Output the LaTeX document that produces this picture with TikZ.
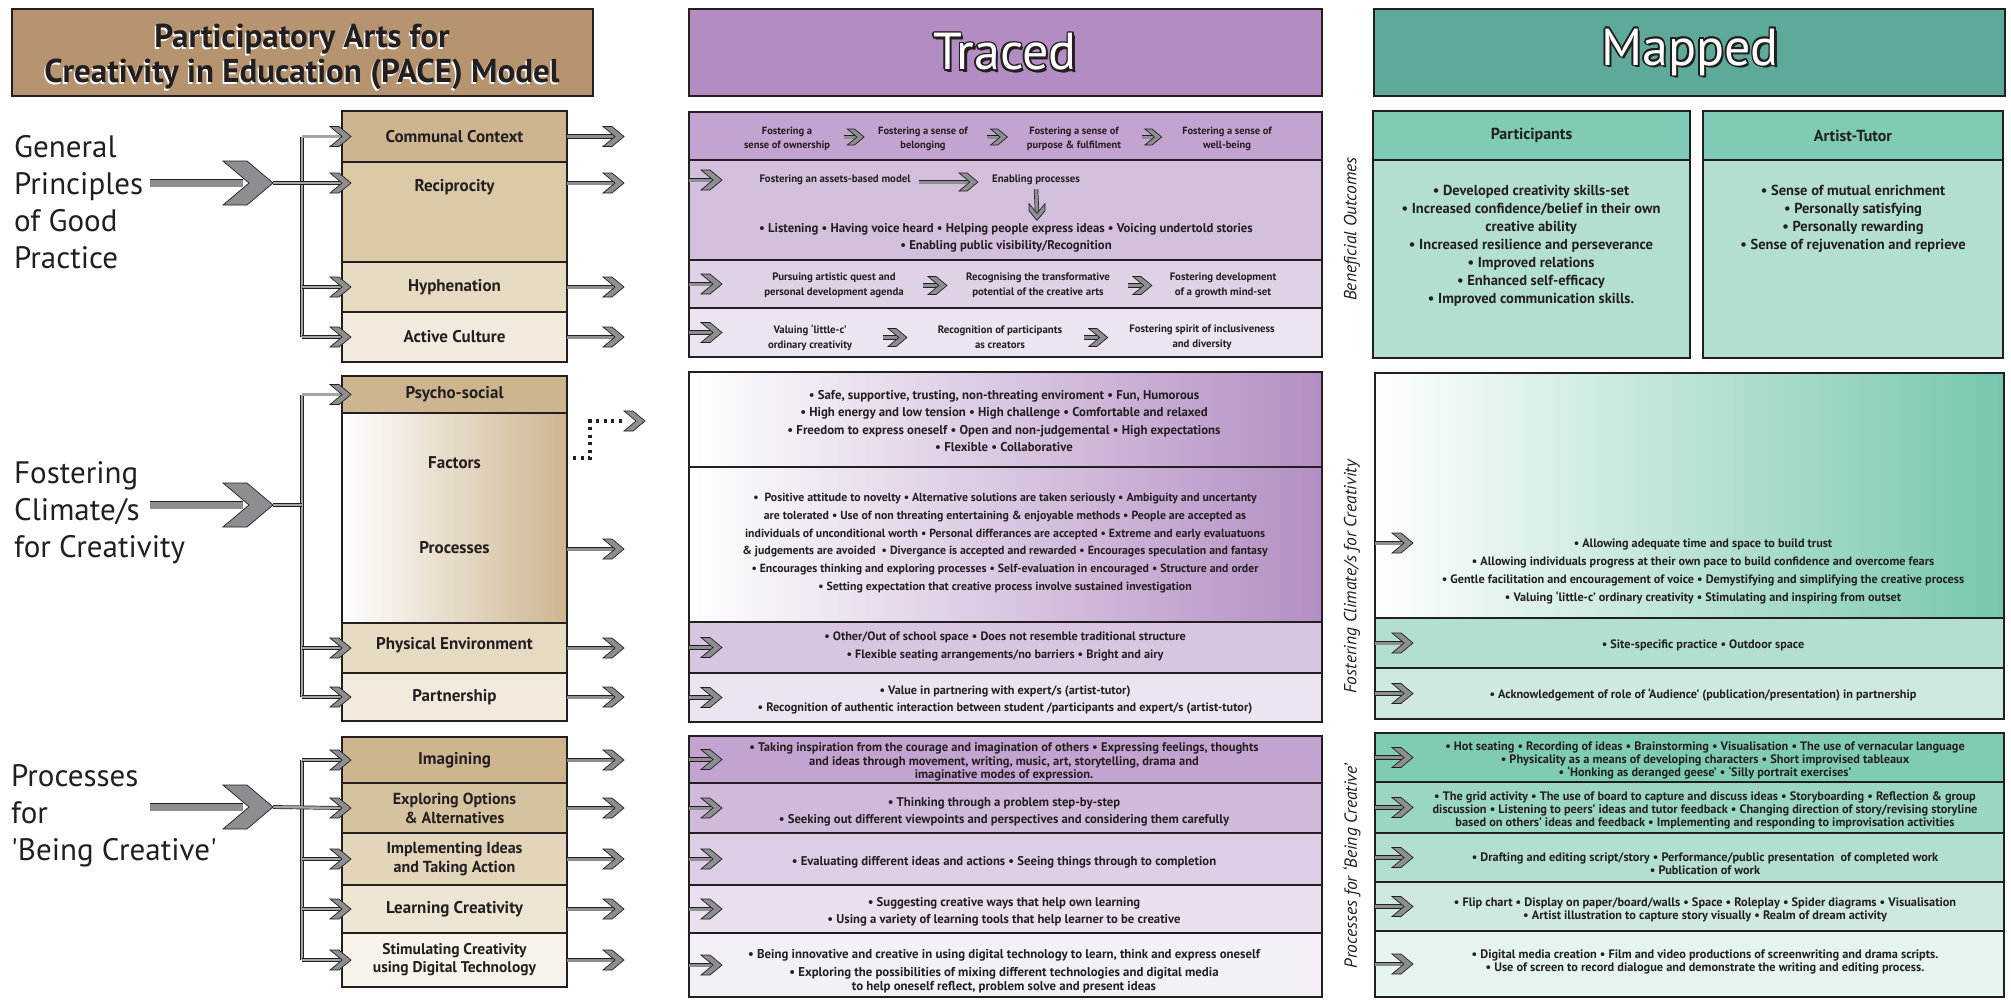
\documentclass[tikz,border=0pt]{standalone}
\usepackage{fontspec}
\setmainfont{PT Sans}
\usetikzlibrary{calc}
\definecolor{dk}{HTML}{231F20}
\definecolor{brownT}{HTML}{B5946F}
\definecolor{tanA}{HTML}{CDB590}
\definecolor{tanAb}{HTML}{D5C29F}
\definecolor{tanB}{HTML}{DBC9A7}
\definecolor{tanC}{HTML}{E6DAC3}
\definecolor{tanCb}{HTML}{E2D5BA}
\definecolor{tanD}{HTML}{F2EBDD}
\definecolor{tanDb}{HTML}{EDE5D4}
\definecolor{tanE}{HTML}{F7F3EB}
\definecolor{purH}{HTML}{B28CC2}
\definecolor{purA}{HTML}{C3A3CF}
\definecolor{purAb}{HTML}{D0BADB}
\definecolor{purB}{HTML}{D3BEDC}
\definecolor{purBb}{HTML}{D8C6E0}
\definecolor{purC}{HTML}{DFD1E6}
\definecolor{purCb}{HTML}{DDCEE5}
\definecolor{purD}{HTML}{ECE4F0}
\definecolor{purDb}{HTML}{E9DFEE}
\definecolor{purE}{HTML}{F5F0F7}
\definecolor{purG}{HTML}{B38EC3}
\definecolor{tealH}{HTML}{5DAA9A}
\definecolor{tealA}{HTML}{80CBB5}
\definecolor{tealB}{HTML}{9BD5C4}
\definecolor{tealC}{HTML}{B3DFD2}
\definecolor{tealD}{HTML}{CDE9E0}
\definecolor{tealE}{HTML}{E6F4EF}
\definecolor{tealG}{HTML}{76C6AE}
\definecolor{agray}{HTML}{8C8E91}

\newcommand\bx[6]{\node[bx,#6,minimum width={#4-#2},minimum height={#5-#3}] (#1) at (#2,#3) {};}
\newcommand\chev[2]{\filldraw[chev] (#1) -- ++(-12*#2,-10*#2) -- ++(-9*#2,0) -- ++(12*#2,10*#2) -- ++(-12*#2,10*#2) -- ++(9*#2,0) -- cycle;}
\newcommand\bigchev[1]{\filldraw[chev] (#1) -- ++(-26,-22) -- ++(-24,0) -- ++(26,22) -- ++(-26,22) -- ++(24,0) -- cycle;}
\newcommand\chevd[2]{\filldraw[chev] (#1) -- ++(-10*#2,-12*#2) -- ++(0,-9*#2) -- ++(10*#2,12*#2) -- ++(10*#2,-12*#2) -- ++(0,9*#2) -- cycle;}
\newcommand\arr[4][shaft]{\path (#3) ++(-10*#4,0) coordinate (tmpS); \draw[#1] (#2) -- (tmpS); \chev{#3}{#4}}
\newcommand\fLbl{\bfseries\fontsize{17}{19}\selectfont}
\newcommand\fLbb{\bfseries\fontsize{16}{19}\selectfont}
\newcommand\fSm{\bfseries\fontsize{10.5}{14}\selectfont}
\newcommand\fMd{\bfseries\fontsize{10.8}{15}\selectfont}
\newcommand\fTr{\bfseries\fontsize{12.2}{17.5}\selectfont}
\newcommand\fTf{\bfseries\fontsize{12.8}{17.5}\selectfont}
\newcommand\fTp{\bfseries\fontsize{11.8}{17.8}\selectfont}
\newcommand\fTi{\bfseries\fontsize{12.5}{13.5}\selectfont}
\newcommand\fTs{\bfseries\fontsize{12.7}{17}\selectfont}
\newcommand\fMp{\bfseries\fontsize{14.5}{18}\selectfont}
\newcommand\fMc{\bfseries\fontsize{12.2}{18}\selectfont}
\newcommand\fMs{\bfseries\fontsize{12.3}{13}\selectfont}
\newcommand\outl[3]{%
  \foreach \dx/\dy in {-1.6/0,1.6/0,0/-1.6,0/1.6,-1.2/-1.2,1.2/1.2,-1.2/1.2,1.2/-1.2,2.4/2.4}
    \node[hdtxt,text=dk] at ($(#1)+(\dx,\dy)$) {#3};
  \node[hdtxt,text=white] (#2) at (#1) {#3};}

\begin{document}
\begin{tikzpicture}[x=1pt,y=-1pt,
  bx/.style={draw=dk,line width=2.2pt,anchor=north west,inner sep=0pt,outer sep=0pt},
  chev/.style={fill=agray,draw=dk,line width=0.7pt,line join=miter},
  shaft/.style={draw=dk,line width=0.7pt,double=agray,double distance=3pt},
  pipe/.style={draw=dk,line width=0.7pt,double=agray!80,double distance=2.4pt},
  bigshaft/.style={draw=dk,line width=0.9pt,double=agray,double distance=7pt},
  big/.style={font=\fontsize{31}{37}\selectfont,text=dk,align=left,anchor=west,inner sep=0pt},
  lbl/.style={font=\fLbl,text=dk,align=center,inner sep=0pt},
  tx/.style={text=dk,align=center,inner sep=0pt},
  hdtxt/.style={font=\fontsize{52}{52}\selectfont,inner sep=0pt},
  rot/.style={rotate=90,font=\itshape\fontsize{17.5}{17.5}\selectfont,text=dk,inner sep=0pt}]
\useasboundingbox (0,0) rectangle (2011,999);
\fill[white] (0,0) rectangle (2011,999);

% ---------- title and headers
\bx{titlebox}{12}{9}{593}{96}{fill=brownT}
\node[tx,text=white,font=\bfseries\fontsize{33}{35}\selectfont] at (300.6,58.4) {Participatory Arts for\\Creativity in Education (PACE) Model};
\node[tx,font=\bfseries\fontsize{33}{35}\selectfont] (title) at (302,57) {Participatory Arts for\\Creativity in Education (PACE) Model};
\bx{trh}{689}{9}{1322}{96}{fill=purH}
\bx{mph}{1374}{9}{2005}{96}{fill=tealH}
\coordinate (trc) at (1005,52);
\coordinate (mpc) at (1690,52);
\outl{trc}{tracedtxt}{Traced}
\outl{mpc}{mappedtxt}{Mapped}

% ---------- left labels
\node[big] (gp) at (14,202) {General\\Principles\\of Good\\Practice};
\node[big] (fc) at (14,513) {Fostering\\Climate/s\\for Creativity};
\node[big] (pbc) at (11,816) {Processes\\for\\\textquotesingle Being Creative\textquotesingle};

% ---------- left column boxes
\bx{cc}{342}{111}{567}{162}{fill=tanA}
\bx{rec}{342}{162}{567}{262}{fill=tanB}
\bx{hyp}{342}{262}{567}{312}{fill=tanC}
\bx{act}{342}{312}{567}{362}{fill=tanD}
\node[lbl] (lcc) at (cc) {Communal Context};
\node[lbl] (lrec) at (454.5,187) {Reciprocity};
\node[lbl] (lhyp) at (hyp) {Hyphenation};
\node[lbl] (lact) at (act) {Active Culture};

\bx{psy}{342}{376}{567}{413}{fill=tanA}
\bx{fp}{342}{413}{567}{623}{left color=white,right color=tanA}
\bx{phy}{342}{623}{567}{673}{fill=tanC}
\bx{par}{342}{673}{567}{721}{fill=tanD}
\node[lbl] (lpsy) at (psy) {Psycho-social};
\node[lbl] (lfac) at (454.5,463) {Factors};
\node[lbl] (lpro) at (454.5,548) {Processes};
\node[lbl] (lphy) at (454.5,645) {Physical Environment};
\node[lbl] (lpar) at (454.5,697) {Partnership};

\bx{ima}{342}{737}{567}{783}{fill=tanA}
\bx{exo}{342}{783}{567}{833}{fill=tanAb}
\bx{imp}{342}{833}{567}{885}{fill=tanCb}
\bx{lea}{342}{885}{567}{933}{fill=tanDb}
\bx{sti}{342}{933}{567}{987}{fill=tanE}
\node[lbl] (lima) at (ima) {Imagining};
\node[lbl,font=\fLbb] (lexo) at (exo) {Exploring Options\\\& Alternatives};
\node[lbl,font=\fLbb] (limp) at (imp) {Implementing Ideas\\and Taking Action};
\node[lbl] (llea) at (lea) {Learning Creativity};
\node[lbl,font=\bfseries\fontsize{15.5}{18}\selectfont] (lsti) at (sti) {Stimulating Creativity\\using Digital Technology};

% ---------- left pipes and big arrows
\coordinate (g1) at (273,183);
\coordinate (g2) at (273,505);
\coordinate (g3) at (273,807);
\draw[pipe] ($(cc.west)+(-40,0)$) -- ($(act.west)+(-40,0)$);
\draw[pipe] ($(psy.west)+(-40,0)$) -- ($(par.west)+(-40,0)$);
\draw[pipe] ($(ima.west)+(-40,0)$) -- ($(sti.west)+(-40,0)$);
\draw[pipe] (g2) -- ($(g2)+(29,0)$);
\arr[pipe]{$(cc.west)+(-40,0)$}{$(cc.west)+(9,0)$}{1}
\arr[pipe]{g1}{$(rec.north west)+(9,21)$}{1}
\arr[pipe]{$(hyp.west)+(-40,0)$}{$(hyp.west)+(9,0)$}{1}
\arr[pipe]{$(act.west)+(-40,0)$}{$(act.west)+(9,0)$}{1}
\arr[pipe]{$(psy.west)+(-40,0)$}{$(psy.west)+(9,0)$}{1}
\arr[pipe]{$(phy.west)+(-40,0)$}{$(phy.west)+(9,0)$}{1}
\arr[pipe]{$(par.west)+(-40,0)$}{$(par.west)+(9,0)$}{1}
\arr[pipe]{$(ima.west)+(-40,0)$}{$(ima.west)+(9,0)$}{1}
\arr[pipe]{g3}{$(exo.west)+(9,0)$}{1}
\arr[pipe]{$(imp.west)+(-40,0)$}{$(imp.west)+(9,0)$}{1}
\arr[pipe]{$(lea.west)+(-40,0)$}{$(lea.west)+(9,0)$}{1}
\arr[pipe]{$(sti.west)+(-40,0)$}{$(sti.west)+(9,0)$}{1}
\foreach \g in {g1,g2,g3}{
  \draw[bigshaft] ($(\g)+(-123,0)$) -- ($(\g)+(-30,0)$);
  \bigchev{\g}}

% ---------- left output arrows
\arr{cc.east}{$(cc.east)+(57,0)$}{1}
\arr{$(rec.north east)+(0,21)$}{$(rec.north east)+(57,21)$}{1}
\arr{hyp.east}{$(hyp.east)+(57,0)$}{1}
\arr{act.east}{$(act.east)+(57,0)$}{1}
\arr{$(fp.north east)+(0,136)$}{$(fp.north east)+(57,136)$}{1}
\arr{phy.east}{$(phy.east)+(57,0)$}{1}
\arr{par.east}{$(par.east)+(57,0)$}{1}
\arr{ima.east}{$(ima.east)+(57,0)$}{1}
\arr{exo.east}{$(exo.east)+(57,0)$}{1}
\arr{imp.east}{$(imp.east)+(57,0)$}{1}
\arr{lea.east}{$(lea.east)+(57,0)$}{1}
\arr{sti.east}{$(sti.east)+(57,0)$}{1}
\draw[dk,line width=3.2pt,dash pattern=on 3pt off 4.5pt] ($(fp.north east)+(6,45)$) -- ++(17,0) -- ++(0,-37) -- ++(36,0);
\chev{$(fp.north east)+(78,8)$}{1}

% ---------- Traced, section 1
\bx{t1}{689}{112}{1322}{160}{fill=purA}
\bx{t2}{689}{160}{1322}{260}{fill=purB}
\bx{t3}{689}{260}{1322}{308}{fill=purC}
\bx{t4}{689}{308}{1322}{357}{fill=purD}
\node[tx,font=\fSm] (a1) at (787,139) {Fostering a\\sense of ownership};
\node[tx,font=\fSm] (a2) at (923,139) {Fostering a sense of\\belonging};
\node[tx,font=\fSm] (a3) at (1074,139) {Fostering a sense of\\purpose \& fulfilment};
\node[tx,font=\fSm] (a4) at (1227,139) {Fostering a sense of\\well-being};
\foreach \p/\q in {a1/a2,a2/a3,a3/a4}{
  \coordinate (mm) at ($(\p.east)!0.5!(\q.west)+(0,-2)$);
  \arr{$(mm)+(-10,0)$}{$(mm)+(10,0)$}{0.8}}
\arr{$(t2.north west)+(0,20)$}{$(t2.north west)+(33,20)$}{1}
\node[tx,font=\fMd] (b1) at (835,180) {Fostering an assets-based model};
\node[tx,font=\fMd] (b2) at (1036,180) {Enabling processes};
\arr{$(b1.east)+(8,2)$}{$(b2.west)+(-14,2)$}{0.9}
\node[tx,font=\bfseries\fontsize{12.7}{17}\selectfont] (b3) at (1006,238) {• Listening • Having voice heard • Helping people express ideas • Voicing undertold stories\\• Enabling public visibility/Recognition};
\draw[shaft] ($(b2.south)+(0,4)$) -- ($(b3.north)+(31,-12)$);
\chevd{$(b3.north)+(31,-3)$}{0.8}
\arr{t3.west}{$(t3.west)+(33,0)$}{1}
\node[tx,font=\fMd] (c1) at (834,285.5) {Pursuing artistic quest and\\personal development agenda};
\node[tx,font=\fMd] (c2) at (1038,285.5) {Recognising the transformative\\potential of the creative arts};
\node[tx,font=\fMd] (c3) at (1223,285.5) {Fostering development\\of a growth mind-set};
\arr{t4.west}{$(t4.west)+(33,0)$}{1}
\node[tx,font=\fMd] (d1) at (810,337.5) {Valuing `little-c'\\ordinary creativity};
\node[tx,font=\fMd] (d2) at (1000,337.5) {Recognition of participants\\as creators};
\node[tx,font=\fMd] (d3) at (1202,337.5) {Fostering spirit of inclusiveness\\and diversity};
\foreach \p/\q in {c1/c2,c2/c3,d1/d2,d2/d3}{
  \coordinate (mm) at ($(\p.east)!0.5!(\q.west)$);
  \arr{$(mm)+(-12,0)$}{$(mm)+(12,0)$}{0.9}}

% ---------- Traced, section 2
\bx{tf}{689}{372}{1322}{467}{left color=white,right color=purG}
\bx{tp}{689}{467}{1322}{622}{left color=white,right color=purG}
\bx{tph}{689}{622}{1322}{673}{fill=purBb}
\bx{tpa}{689}{673}{1322}{722}{fill=purD}
\node[tx,font=\fTf] (tfx) at (1004,421) {• Safe, supportive, trusting, non-threating enviroment • Fun, Humorous\\• High energy and low tension • High challenge • Comfortable and relaxed\\• Freedom to express oneself • Open and non-judgemental • High expectations\\• Flexible • Collaborative};
\node[tx,font=\fTp] (tpx) at (1005,543) {•\ \ Positive attitude to novelty • Alternative solutions are taken seriously • Ambiguity and uncertanty\\are tolerated • Use of non threating entertaining \& enjoyable methods • People are accepted as\\individuals of unconditional worth • Personal differances are accepted • Extreme and early evaluatuons\\\& judgements are avoided\ \ • Divergance is accepted and rewarded • Encourages speculation and fantasy\\• Encourages thinking and exploring processes • Self-evaluation in encouraged • Structure and order\\• Setting expectation that creative process involve sustained investigation};
\arr{tph.west}{$(tph.west)+(33,0)$}{1}
\node[tx,font=\fTr] (tphx) at (1005,646.5) {• Other/Out of school space • Does not resemble traditional structure\\• Flexible seating arrangements/no barriers • Bright and airy};
\arr{tpa.west}{$(tpa.west)+(33,0)$}{1}
\node[tx,font=\fTr] (tpax) at (1005,700) {• Value in partnering with expert/s (artist-tutor)\\• Recognition of authentic interaction between student /participants and expert/s (artist-tutor)};

% ---------- Traced, section 3
\bx{ti}{689}{736}{1322}{783}{fill=purA}
\bx{te}{689}{783}{1322}{833}{fill=purAb}
\bx{tm}{689}{833}{1322}{885}{fill=purCb}
\bx{tl}{689}{885}{1322}{933}{fill=purDb}
\bx{ts}{689}{933}{1322}{997}{fill=purE}
\foreach \n in {ti,te,tm,tl,ts}{\arr{\n.west}{$(\n.west)+(33,0)$}{1}}
\node[tx,font=\fTi] (tix) at (1004,762) {• Taking inspiration from the courage and imagination of others • Expressing feelings, thoughts\\and ideas through movement, writing, music, art, storytelling, drama and\\imaginative modes of expression.};
\node[tx,font=\fTs] (tex) at (1004,811.5) {• Thinking through a problem step-by-step\\• Seeking out different viewpoints and perspectives and considering them carefully};
\node[tx,font=\fTs] (tmx) at (1004,862) {• Evaluating different ideas and actions • Seeing things through to completion};
\node[tx,font=\fTs] (tlx) at (1004,911.5) {• Suggesting creative ways that help own learning\\• Using a variety of learning tools that help learner to be creative};
\node[tx,font=\bfseries\fontsize{12.8}{14}\selectfont] (tsx) at (1004,971) {• Being innovative and creative in using digital technology to learn, think and express oneself\\[4pt]• Exploring the possibilities of mixing different technologies and digital media\\to help oneself reflect, problem solve and present ideas};

% ---------- Mapped, section 1
\bx{mpa}{1373}{111}{1690}{358}{fill=tealC}
\bx{mpah}{1373}{111}{1690}{160}{fill=tealA}
\bx{mat}{1703}{111}{2003}{358}{fill=tealC}
\bx{math}{1703}{111}{2003}{160}{fill=tealA}
\node[tx,font=\bfseries\fontsize{16}{16}\selectfont] (hpart) at (mpah) {Participants};
\node[tx,font=\bfseries\fontsize{16}{16}\selectfont] (hart) at (math) {Artist-Tutor};
\node[tx,font=\fMp] (partx) at (1531,246) {• Developed creativity skills-set\\• Increased confidence/belief in their own\\creative ability\\• Increased resilience and perseverance\\• Improved relations\\• Enhanced self-efficacy\\• Improved communication skills.};
\node[tx,font=\fMp] (artx) at (1853,219) {• Sense of mutual enrichment\\• Personally satisfying\\• Personally rewarding\\• Sense of rejuvenation and reprieve};
\node[rot] (rbo) at (1352,229) {Beneficial Outcomes};

% ---------- Mapped, section 2
\bx{mcl}{1375}{373}{2004}{618}{left color=white,right color=tealG}
\bx{msi}{1375}{618}{2004}{668}{fill=tealC}
\bx{mpr}{1375}{668}{2004}{719}{fill=tealD}
\arr{$(mcl.north west)+(0,170)$}{$(mcl.north west)+(38,170)$}{1}
\arr{msi.west}{$(msi.west)+(38,0)$}{1}
\arr{mpr.west}{$(mpr.west)+(38,0)$}{1}
\node[tx,font=\fMc] (mclx) at (1703,571) {• Allowing adequate time and space to build trust\\• Allowing individuals progress at their own pace to build confidence and overcome fears\\• Gentle facilitation and encouragement of voice • Demystifying and simplifying the creative process\\• Valuing `little-c' ordinary creativity • Stimulating and inspiring from outset};
\node[tx,font=\fMc] (msix) at (1703,645) {• Site-specific practice • Outdoor space};
\node[tx,font=\fMc] (mprx) at (1703,695) {• Acknowledgement of role of `Audience' (publication/presentation) in partnership};
\node[rot] (rfc) at (1352,577) {Fostering Climate/s for Creativity};

% ---------- Mapped, section 3
\bx{m1}{1375}{733}{2004}{782}{fill=tealA}
\bx{m2}{1375}{782}{2004}{833}{fill=tealB}
\bx{m3}{1375}{833}{2004}{882}{fill=tealC}
\bx{m4}{1375}{882}{2004}{931}{fill=tealD}
\bx{m5}{1375}{931}{2004}{997}{fill=tealE}
\foreach \n in {m1,m2,m3,m4,m5}{\arr{\n.west}{$(\n.west)+(38,0)$}{1}}
\node[tx,font=\fMs] (m1x) at (1705,760.5) {• Hot seating • Recording of ideas • Brainstorming • Visualisation • The use of vernacular language\\• Physicality as a means of developing characters • Short improvised tableaux\\• `Honking as deranged geese' • `Silly portrait exercises'};
\node[tx,font=\fMs] (m2x) at (1705,810.5) {• The grid activity • The use of board to capture and discuss ideas • Storyboarding • Reflection \& group\\discussion • Listening to peers' ideas and tutor feedback • Changing direction of story/revising storyline\\based on others' ideas and feedback • Implementing and responding to improvisation activities};
\node[tx,font=\fMs] (m3x) at (1705,864) {• Drafting and editing script/story • Performance/public presentation\ \ of completed work\\• Publication of work};
\node[tx,font=\fMs] (m4x) at (1705,909.5) {• Flip chart • Display on paper/board/walls • Space • Roleplay • Spider diagrams • Visualisation\\• Artist illustration to capture story visually • Realm of dream activity};
\node[tx,font=\fMs] (m5x) at (1705,962) {• Digital media creation • Film and video productions of screenwriting and drama scripts.\\• Use of screen to record dialogue and demonstrate the writing and editing process.};
\node[rot] (rpc) at (1352,866) {Processes for `Being Creative'};
\end{tikzpicture}
\end{document}
